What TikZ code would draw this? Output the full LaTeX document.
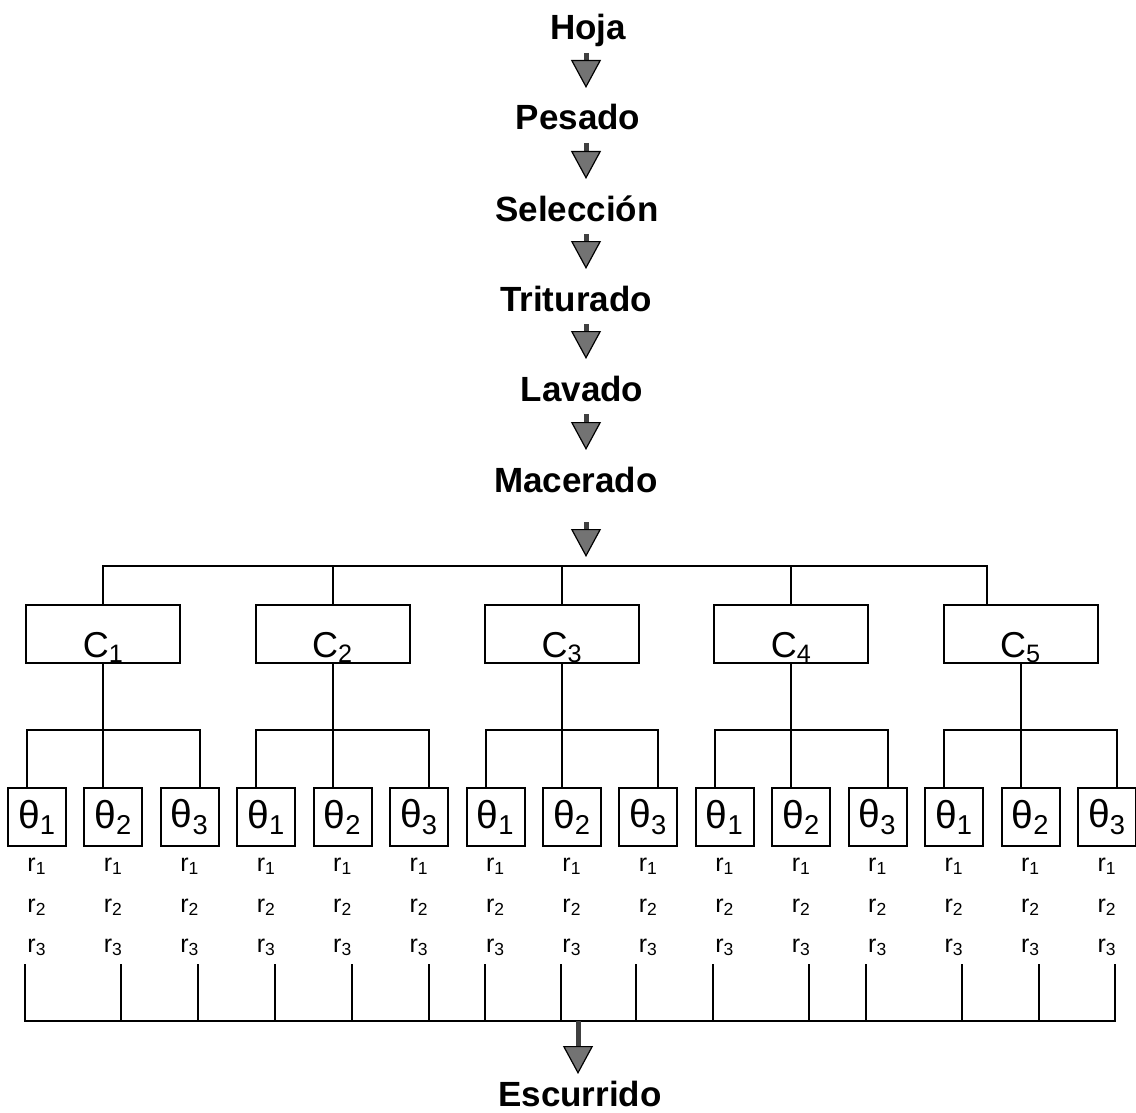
\documentclass[tikz,border=0pt]{standalone}
\usepackage{fontspec}
\setmainfont{Liberation Sans}
\usetikzlibrary{arrows.meta}

\begin{document}
\begin{tikzpicture}[x=0.5pt,y=-0.5pt,line width=1pt,
    title/.style={inner sep=0pt,anchor=base,text height=12.5pt,text depth=2.5pt,font=\fontsize{17.5}{20}\selectfont\bfseries},
    flow/.style={line width=2.5pt,black!75,shorten <=3.5pt,shorten >=8pt,
        -{Triangle[width=15pt,length=14pt,fill=black!55,color=black,line width=0.6pt]}},
    cbox/.style={draw,minimum width=77pt,inner sep=0pt,text height=26pt,text depth=3pt,font=\fontsize{18}{20}\selectfont},
    tbox/.style={draw,minimum width=29pt,minimum height=29pt,inner sep=0pt,font=\fontsize{19.5}{22}\selectfont},
    rlab/.style={inner sep=0pt,anchor=base,font=\fontsize{12.5}{14}\selectfont}]
    \useasboundingbox (0,0) rectangle (1136,1113);

    % process chain
    \node[title] (hoja) at (588,40) {Hoja};
    \node[title] (pesado) at (578,130) {Pesado};
    \node[title] (sel) at (577,221) {Selección};
    \node[title] (trit) at (576,311) {Triturado};
    \node[title] (lav) at (582,401) {Lavado};
    \node[title] (mac) at (576,492) {Macerado};
    \node[title] (esc) at (580,1106) {Escurrido};

    \coordinate (ax) at (586,0);
    \coordinate (topbus) at (586,566);
    \coordinate (tbus) at (0,730);
    \coordinate (bbus) at (0,1021);
    \coordinate (bot) at (578,1021);

    \foreach \a/\b in {hoja/pesado,pesado/sel,sel/trit,trit/lav,lav/mac}
        \draw[flow] (ax |- \a.south) -- (ax |- \b.north);
    \draw[flow,shorten <=12pt,shorten >=4.5pt] (ax |- mac.south) -- (topbus);

    % concentrations
    \foreach \k in {1,...,5}{
        \pgfmathsetmacro{\x}{27+76.43*(3*\k-2)}
        \node[cbox] (c\k) at (\x,634) {C\textsubscript{\k}};
    }
    \draw (c1.north) |- ([xshift=-17pt]c5.north |- topbus) -- ([xshift=-17pt]c5.north);
    \foreach \k in {2,3,4}
        \draw (c\k.north) -- (c\k.north |- topbus);

    % temperatures and repetitions
    \foreach \i in {1,...,15}{
        \pgfmathsetmacro{\x}{37+76.43*(\i-1)}
        \pgfmathtruncatemacro{\j}{mod(\i-1,3)+1}
        \node[tbox] (th\i) at (\x,817) {θ\textsubscript{\j}};
        \foreach \k/\yy in {1/871,2/912,3/952}
            \node[rlab] (r\k-\i) at (\x,\yy) {r\textsubscript{\k}};
    }
    \foreach \k in {1,...,5}{
        \pgfmathtruncatemacro{\a}{3*\k-2}
        \pgfmathtruncatemacro{\b}{3*\k-1}
        \pgfmathtruncatemacro{\c}{3*\k}
        \draw ([xshift=-5pt]th\a.north) |- ([xshift=5pt]th\c.north |- tbus) -- ([xshift=5pt]th\c.north);
        \draw (c\k.south) -- ([xshift=-5pt]th\b.north);
    }

    % collecting line
    \draw[shorten <=3.5pt,shorten >=3.5pt] ([xshift=-6pt]r3-1.south) |- ([xshift=4pt]r3-15.south |- bbus) -- ([xshift=4pt]r3-15.south);
    \foreach \i/\o in {2/4,3/4,4/4.5,5/4.5,6/5,7/-5.5,8/-5.5,9/-6,10/-6,11/4,12/-6,13/4,14/4}
        \draw[shorten <=3.5pt] ([xshift=\o pt]r3-\i.south) -- ([xshift=\o pt]r3-\i.south |- bbus);
    \draw[flow,shorten <=0pt,shorten >=3pt] (bot) -- (bot |- esc.north);
\end{tikzpicture}
\end{document}
